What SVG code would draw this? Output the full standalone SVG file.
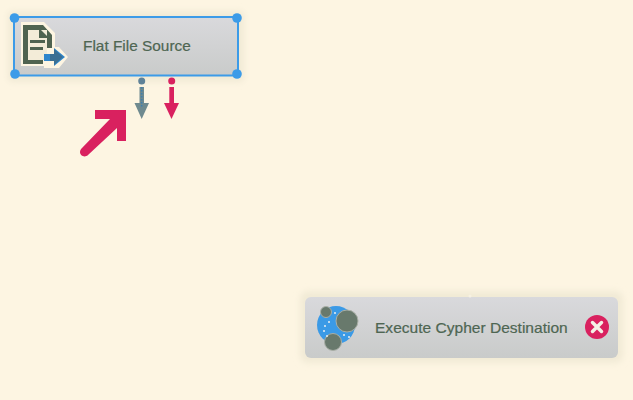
<svg xmlns="http://www.w3.org/2000/svg" width="633" height="400" viewBox="0 0 633 400">
<defs>
<linearGradient id="nodeFill" x1="0" y1="0" x2="0" y2="1"><stop offset="0" stop-color="#d9d9dc"/><stop offset="1" stop-color="#c9cbca"/></linearGradient>
<filter id="glow" x="-10%" y="-30%" width="120%" height="160%"><feGaussianBlur stdDeviation="3"/></filter>
</defs>
<style>
.label{font-family:"Liberation Sans",Arial,sans-serif;fill:#4e6652;stroke:#4e6652;stroke-width:.2}
.shadow{fill:#f1ead6;filter:url(#glow)}
.body{fill:url(#nodeFill)}
.handle{fill:#3c9be8}
.dark{fill:#4f6350}
.sphere{fill:#68796c;stroke:#a9afa6;stroke-width:1}
.halo{fill:#fdf5e2}
</style>
<rect width="633" height="400" fill="#fdf5e2"/>
<g id="node-flat-file-source">
<rect class="shadow" x="8" y="11" width="236" height="71" rx="4"/>
<rect class="body" x="14" y="17" width="224" height="58.500" rx="2" stroke="#3c9be8" stroke-width="2"/>
<path class="halo" d="M21 22H44L55 33V47H59L68 57L59 68H44V66H21Z"/>
<path class="dark" d="M23 25H43L52 35V48H47V38H39V30H28V60H43V64H23Z"/>
<rect x="28" y="30" width="19" height="30" fill="#f3ecd8"/>
<path class="dark" d="M39 30H41L47 36V38H39Z"/>
<rect class="dark" x="30" y="40" width="15" height="3"/>
<rect class="dark" x="30" y="47" width="13" height="3"/>
<path d="M44 54H54V48L65 57L54 66V61H44Z" fill="#2f86cc"/>
<path d="M50 54H54V49L63 57L54 65V61H50Z" fill="#3b6f92"/>
<circle class="handle" cx="14.500" cy="18" r="4.800"/>
<circle class="handle" cx="237" cy="18" r="4.800"/>
<circle class="handle" cx="15" cy="74" r="4.800"/>
<circle class="handle" cx="237" cy="74" r="4.800"/>
<text class="label" x="83" y="51" font-size="15.400">Flat File Source</text>
</g>
<g id="node-execute-cypher-destination">
<rect class="shadow" x="300" y="291" width="323" height="72" rx="8"/>
<rect class="body" x="305" y="297" width="313" height="61" rx="6"/>
<circle cx="336" cy="325" r="19" fill="#3b9ae6"/>
<circle class="sphere" cx="326" cy="312" r="5.500"/>
<circle class="sphere" cx="347" cy="321" r="11"/>
<circle class="sphere" cx="333" cy="342" r="8.500"/>
<g fill="#e8eef2"><circle cx="329" cy="322" r="1"/><circle cx="325" cy="326" r="1"/><circle cx="324" cy="331" r="1"/><circle cx="327" cy="336" r="1"/><circle cx="335" cy="313" r="1"/><circle cx="344" cy="335" r="1"/><circle cx="349" cy="337" r="1"/></g>
<text class="label" x="375" y="333" font-size="15.550">Execute Cypher Destination</text>
<circle cx="597" cy="327" r="12" fill="#d9215f"/>
<path d="M592.500 322.500L601.500 331.500M601.500 322.500L592.500 331.500" stroke="#f5f0e6" stroke-width="3.500" stroke-linecap="round" fill="none"/>
<circle cx="470" cy="296" r="1.500" fill="#f7f1e2"/>
</g>
<g id="connectors">
<circle cx="141.700" cy="81" r="3.500" fill="#5f8298"/>
<path d="M139.500 87H144V103H149L141.700 119L134.500 103H139.500Z" fill="#6f8a8f"/>
<path d="M141.700 87V108" stroke="#3f7fb0" stroke-width="1.500" stroke-dasharray="1.500 1.500"/>
<circle cx="171.700" cy="81" r="3.500" fill="#d9215f"/>
<path d="M169.300 87H174V103H179L171.500 119L164 103H169.300Z" fill="#d9215f"/>
<path d="M95 110H126V141H117V128L88 155C85 158 80 156 80 152C80 150 81 149 82 148L110 119H95Z" fill="#d9215f"/>
</g>
</svg>
